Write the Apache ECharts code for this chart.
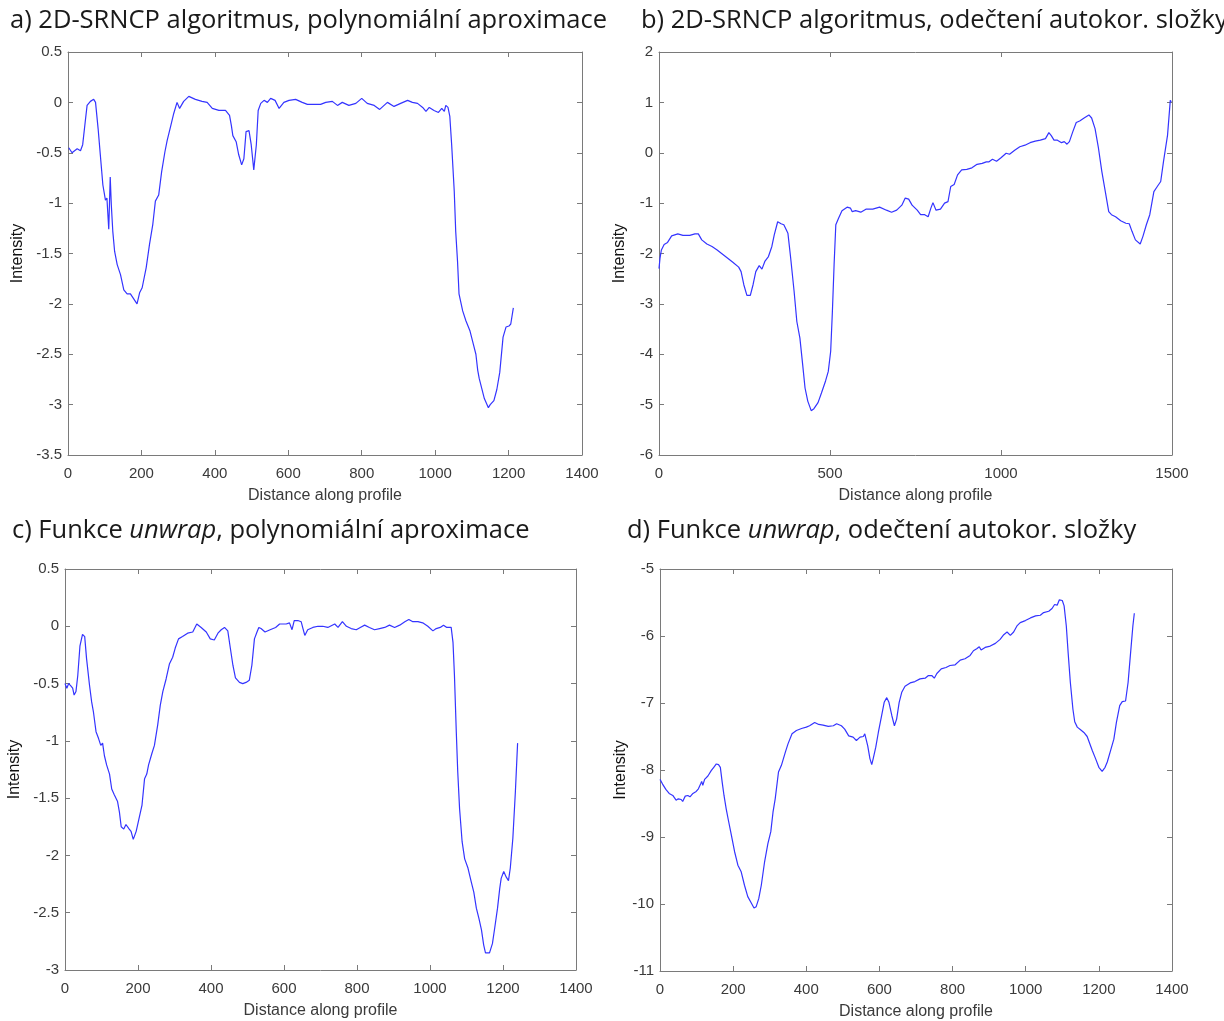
<!DOCTYPE html>
<html>
<head>
<meta charset="utf-8">
<script src="https://cdn.jsdelivr.net/npm/echarts@6/dist/echarts.min.js"></script>
<style>
  html, body { margin: 0; padding: 0; background: #fff; }
  #main { width: 1224px; height: 1021px; }
</style>
</head>
<body>
<div id="main"></div>
<script>
// panel a) 2D-SRNCP, polynomial fit
var xA = [2, 11, 25, 34, 40, 47, 52, 56, 61, 70, 75, 82, 88, 95, 102, 106, 111, 115, 118, 122, 127, 134, 143, 152, 161, 170, 179, 188, 195, 202, 213, 222, 231, 238, 247, 255, 264, 270, 280, 288, 297, 304, 315, 329, 347, 365, 379, 393, 411, 429, 440, 445, 449, 458, 465, 473, 479, 485, 493, 499, 506, 513, 518, 525, 534, 543, 552, 564, 575, 588, 602, 620, 638, 652, 670, 688, 702, 720, 734, 747, 765, 784, 800, 815, 834, 849, 870, 888, 906, 925, 938, 952, 966, 975, 984, 997, 1009, 1018, 1025, 1029, 1035, 1040, 1045, 1052, 1056, 1061, 1065, 1075, 1084, 1095, 1104, 1111, 1116, 1120, 1134, 1145, 1150, 1160, 1168, 1176, 1185, 1193, 1201, 1206, 1213];
var yA = [-0.45, -0.50, -0.46, -0.48, -0.42, -0.19, -0.03, -0.02, 0.01, 0.03, 0.0, -0.26, -0.52, -0.82, -0.97, -0.95, -1.26, -0.74, -1.02, -1.28, -1.48, -1.61, -1.71, -1.86, -1.90, -1.90, -1.95, -2.00, -1.89, -1.84, -1.64, -1.41, -1.21, -0.98, -0.92, -0.69, -0.49, -0.38, -0.23, -0.11, 0.0, -0.06, 0.01, 0.06, 0.03, 0.01, 0.0, -0.06, -0.08, -0.08, -0.13, -0.23, -0.33, -0.39, -0.52, -0.62, -0.56, -0.29, -0.28, -0.42, -0.67, -0.42, -0.08, -0.01, 0.02, 0.0, 0.04, 0.02, -0.06, 0.0, 0.02, 0.03, 0.0, -0.02, -0.02, -0.02, 0.0, 0.01, -0.03, 0.0, -0.03, -0.01, 0.04, -0.01, -0.03, -0.07, 0.0, -0.04, -0.01, 0.02, 0.0, -0.01, -0.05, -0.09, -0.05, -0.08, -0.10, -0.06, -0.09, -0.03, -0.05, -0.14, -0.42, -0.88, -1.28, -1.58, -1.90, -2.07, -2.17, -2.27, -2.40, -2.50, -2.66, -2.74, -2.94, -3.03, -3.00, -2.96, -2.85, -2.68, -2.33, -2.23, -2.22, -2.20, -2.04];

// panel b) 2D-SRNCP, autocorrelation removed
var xB = [0, 3, 7, 15, 25, 37, 55, 70, 90, 105, 115, 125, 140, 155, 170, 185, 200, 215, 233, 240, 248, 257, 267, 275, 283, 293, 301, 310, 320, 330, 337, 347, 357, 365, 377, 385, 395, 403, 412, 420, 427, 435, 445, 453, 465, 475, 487, 495, 502, 507, 512, 517, 525, 535, 550, 560, 565, 575, 590, 605, 625, 645, 665, 680, 695, 710, 720, 730, 740, 755, 765, 777, 787, 795, 801, 810, 823, 835, 845, 853, 863, 873, 885, 900, 915, 930, 945, 957, 965, 975, 987, 1000, 1015, 1025, 1040, 1055, 1070, 1085, 1100, 1115, 1130, 1140, 1147, 1155, 1165, 1177, 1185, 1193, 1200, 1210, 1220, 1230, 1243, 1257, 1265, 1275, 1285, 1295, 1305, 1315, 1323, 1335, 1350, 1365, 1375, 1383, 1393, 1407, 1415, 1425, 1435, 1447, 1457, 1467, 1475, 1487, 1495, 1498];
var yB = [-2.30, -2.09, -1.93, -1.82, -1.78, -1.65, -1.61, -1.64, -1.64, -1.61, -1.61, -1.73, -1.81, -1.86, -1.93, -2.01, -2.09, -2.17, -2.27, -2.36, -2.62, -2.83, -2.83, -2.62, -2.36, -2.24, -2.31, -2.15, -2.06, -1.86, -1.63, -1.37, -1.41, -1.43, -1.60, -2.09, -2.75, -3.35, -3.68, -4.20, -4.67, -4.93, -5.12, -5.08, -4.96, -4.77, -4.53, -4.34, -3.94, -3.15, -2.22, -1.43, -1.30, -1.15, -1.08, -1.10, -1.17, -1.15, -1.18, -1.12, -1.12, -1.08, -1.14, -1.18, -1.14, -1.04, -0.90, -0.92, -1.04, -1.14, -1.23, -1.23, -1.27, -1.10, -0.99, -1.14, -1.12, -1.00, -0.97, -0.67, -0.63, -0.44, -0.34, -0.33, -0.30, -0.23, -0.21, -0.18, -0.18, -0.13, -0.17, -0.10, -0.01, -0.03, 0.05, 0.12, 0.15, 0.20, 0.23, 0.25, 0.28, 0.40, 0.34, 0.25, 0.25, 0.20, 0.22, 0.17, 0.22, 0.42, 0.60, 0.63, 0.69, 0.75, 0.69, 0.48, 0.09, -0.38, -0.77, -1.17, -1.23, -1.27, -1.35, -1.40, -1.41, -1.56, -1.73, -1.81, -1.66, -1.43, -1.23, -0.77, -0.67, -0.57, -0.18, 0.35, 1.04, 1.01];

// panel c) unwrap, polynomial fit
var xC = [0, 5, 10, 16, 21, 25, 30, 35, 41, 48, 54, 59, 67, 73, 78, 85, 92, 98, 103, 108, 114, 122, 128, 135, 144, 149, 154, 161, 167, 176, 181, 187, 195, 202, 211, 218, 224, 229, 238, 245, 254, 261, 268, 277, 286, 295, 302, 311, 322, 336, 350, 361, 373, 387, 398, 409, 419, 428, 437, 446, 452, 460, 467, 478, 487, 496, 505, 512, 519, 526, 531, 537, 548, 562, 577, 588, 606, 615, 622, 628, 638, 647, 652, 657, 665, 679, 693, 706, 720, 739, 748, 760, 771, 784, 798, 809, 821, 834, 848, 862, 876, 889, 903, 917, 931, 942, 953, 967, 980, 994, 1008, 1017, 1028, 1037, 1046, 1058, 1063, 1067, 1072, 1076, 1081, 1088, 1095, 1104, 1113, 1120, 1127, 1134, 1141, 1147, 1152, 1163, 1171, 1177, 1185, 1191, 1195, 1202, 1209, 1215, 1220, 1227, 1234, 1240];
var yC = [-0.50, -0.54, -0.50, -0.52, -0.54, -0.60, -0.57, -0.43, -0.17, -0.07, -0.09, -0.28, -0.51, -0.66, -0.75, -0.92, -0.98, -1.04, -1.02, -1.13, -1.21, -1.29, -1.42, -1.47, -1.53, -1.62, -1.75, -1.77, -1.73, -1.77, -1.79, -1.86, -1.79, -1.69, -1.56, -1.33, -1.29, -1.21, -1.11, -1.04, -0.86, -0.69, -0.57, -0.46, -0.33, -0.27, -0.19, -0.11, -0.09, -0.06, -0.05, 0.02, -0.01, -0.05, -0.11, -0.12, -0.06, -0.03, -0.01, -0.04, -0.17, -0.34, -0.45, -0.49, -0.50, -0.49, -0.47, -0.34, -0.11, -0.05, -0.01, -0.02, -0.05, -0.03, -0.01, 0.02, 0.02, 0.03, -0.03, 0.05, 0.05, 0.04, -0.02, -0.08, -0.03, -0.01, 0.0, 0.0, -0.01, 0.02, -0.01, 0.04, 0.0, -0.02, -0.03, -0.01, 0.01, -0.01, -0.03, -0.02, -0.01, 0.01, -0.01, 0.01, 0.04, 0.06, 0.04, 0.04, 0.03, 0.0, -0.04, -0.02, -0.01, 0.01, -0.01, -0.01, -0.14, -0.43, -0.92, -1.27, -1.59, -1.88, -2.03, -2.11, -2.23, -2.32, -2.46, -2.55, -2.65, -2.78, -2.85, -2.85, -2.77, -2.64, -2.46, -2.29, -2.20, -2.14, -2.19, -2.22, -2.11, -1.85, -1.44, -1.02];

// panel d) unwrap, autocorrelation removed
var xD = [0, 7, 16, 25, 35, 44, 50, 58, 62, 69, 76, 82, 90, 99, 105, 111, 114, 117, 122, 131, 140, 147, 154, 160, 165, 170, 175, 181, 187, 195, 204, 213, 222, 231, 240, 250, 257, 263, 270, 277, 286, 295, 303, 309, 315, 324, 332, 343, 350, 361, 373, 387, 400, 409, 423, 434, 446, 460, 474, 483, 496, 505, 516, 528, 537, 547, 556, 560, 568, 574, 579, 583, 590, 597, 606, 613, 620, 626, 634, 641, 647, 654, 661, 670, 684, 697, 711, 725, 734, 743, 750, 757, 769, 782, 793, 807, 821, 834, 848, 857, 866, 873, 878, 889, 903, 917, 930, 940, 949, 958, 967, 976, 985, 999, 1013, 1027, 1040, 1049, 1063, 1072, 1079, 1086, 1092, 1100, 1105, 1111, 1116, 1122, 1129, 1134, 1141, 1150, 1159, 1168, 1174, 1182, 1191, 1200, 1209, 1217, 1223, 1232, 1241, 1248, 1257, 1264, 1273, 1280, 1286, 1293, 1297];
var yD = [-8.14, -8.21, -8.29, -8.35, -8.38, -8.45, -8.43, -8.44, -8.47, -8.39, -8.38, -8.40, -8.35, -8.32, -8.28, -8.21, -8.17, -8.23, -8.14, -8.09, -8.01, -7.96, -7.91, -7.92, -7.96, -8.18, -8.38, -8.58, -8.75, -8.97, -9.22, -9.42, -9.52, -9.72, -9.89, -9.99, -10.06, -10.04, -9.92, -9.72, -9.37, -9.10, -8.92, -8.63, -8.43, -8.03, -7.93, -7.73, -7.61, -7.46, -7.41, -7.38, -7.36, -7.34, -7.29, -7.32, -7.33, -7.35, -7.34, -7.31, -7.34, -7.39, -7.49, -7.51, -7.56, -7.51, -7.50, -7.46, -7.64, -7.83, -7.92, -7.83, -7.66, -7.44, -7.19, -6.99, -6.92, -6.99, -7.19, -7.34, -7.24, -6.99, -6.84, -6.75, -6.70, -6.68, -6.64, -6.63, -6.59, -6.59, -6.63, -6.56, -6.49, -6.47, -6.44, -6.43, -6.36, -6.34, -6.29, -6.22, -6.19, -6.16, -6.21, -6.17, -6.15, -6.11, -6.05, -5.98, -5.94, -5.99, -5.94, -5.85, -5.80, -5.77, -5.73, -5.70, -5.69, -5.65, -5.63, -5.59, -5.53, -5.54, -5.46, -5.47, -5.55, -5.85, -6.25, -6.69, -7.09, -7.28, -7.36, -7.40, -7.44, -7.50, -7.59, -7.71, -7.83, -7.96, -8.02, -7.96, -7.88, -7.71, -7.54, -7.29, -7.04, -6.98, -6.97, -6.69, -6.30, -5.85, -5.66];

var titles = [
  'a) 2D-SRNCP algoritmus, polynomiální aproximace',
  'b) 2D-SRNCP algoritmus, odečtení autokor. složky',
  'c) Funkce {i|unwrap}, polynomiální aproximace',
  'd) Funkce {i|unwrap}, odečtení autokor. složky'
];

var ink = '#3a3a3a';
var boxLine = '#7a7a7a';
var lineBlue = '#3434ff';
var axisFont = 'Liberation Sans, Arial, sans-serif';
var titleFont = 'Open Sans, Noto Sans, sans-serif';

function pairs(xs, ys) {
  return xs.map(function(x, i) { return [x, ys[i]]; });
}

// plain numbers, no thousands separator
function plain(v) { return String(v); }

var panels = [
  { grid: { left: 68, top: 52, width: 514, height: 403 }, x: [0, 1400, 200], y: [-3.5, 0.5, 0.5], yGap: 42, data: pairs(xA, yA), title: { left: 10, top: 8 } },
  { grid: { left: 659, top: 52, width: 513, height: 403 }, x: [0, 1500, 500], y: [-6, 2, 1], yGap: 31, data: pairs(xB, yB), title: { left: 641, top: 8 } },
  { grid: { left: 65, top: 569, width: 511, height: 401 }, x: [0, 1400, 200], y: [-3, 0.5, 0.5], yGap: 42, data: pairs(xC, yC), title: { left: 12, top: 518 } },
  { grid: { left: 660, top: 569, width: 512, height: 402 }, x: [0, 1400, 200], y: [-11, -5, 1], yGap: 30, data: pairs(xD, yD), title: { left: 627, top: 518 } }
];

var grids = [], xAxes = [], yAxes = [], series = [], titleList = [];

panels.forEach(function(p, i) {
  grids.push(Object.assign({ containLabel: false }, p.grid));
  var common = {
    gridIndex: i,
    type: 'value',
    splitLine: { show: false },
    axisLine: { show: true, onZero: false, lineStyle: { color: boxLine, width: 1 } },
    axisTick: { show: true, inside: true, length: 5, lineStyle: { color: boxLine } }
  };
  xAxes.push(Object.assign({}, common, {
    position: 'bottom',
    min: p.x[0], max: p.x[1], interval: p.x[2],
    axisLabel: { color: ink, fontSize: 15, fontFamily: axisFont, margin: 11, formatter: plain },
    name: 'Distance along profile',
    nameLocation: 'middle',
    nameGap: 33,
    nameTextStyle: { color: ink, fontSize: 16, fontFamily: axisFont }
  }));
  xAxes.push(Object.assign({}, common, {
    position: 'top',
    min: p.x[0], max: p.x[1], interval: p.x[2],
    axisLabel: { show: false }
  }));
  yAxes.push(Object.assign({}, common, {
    position: 'left',
    min: p.y[0], max: p.y[1], interval: p.y[2],
    axisLabel: { color: ink, fontSize: 15, fontFamily: axisFont, margin: 6, formatter: plain },
    name: 'Intensity',
    nameLocation: 'middle',
    nameGap: p.yGap,
    nameTextStyle: { color: '#111', fontSize: 16, fontFamily: axisFont }
  }));
  yAxes.push(Object.assign({}, common, {
    position: 'right',
    min: p.y[0], max: p.y[1], interval: p.y[2],
    axisLabel: { show: false }
  }));
  series.push({
    type: 'line',
    xAxisIndex: i * 2,
    yAxisIndex: i * 2,
    data: p.data,
    showSymbol: false,
    smooth: false,
    lineStyle: { color: lineBlue, width: 1.2 },
    silent: true
  });
  titleList.push({
    text: titles[i],
    left: p.title.left,
    top: p.title.top,
    padding: 0,
    textStyle: {
      color: '#1a1a1a', fontSize: 25.5, fontWeight: 'normal', fontFamily: titleFont,
      rich: { i: { fontStyle: 'italic', fontSize: 25.5, fontFamily: titleFont, color: '#1a1a1a' } }
    }
  });
});

var chart = echarts.init(document.getElementById('main'), null, { renderer: 'canvas' });
chart.setOption({
  animation: false,
  backgroundColor: '#fff',
  title: titleList,
  grid: grids,
  xAxis: xAxes,
  yAxis: yAxes,
  series: series
});
</script>
</body>
</html>
